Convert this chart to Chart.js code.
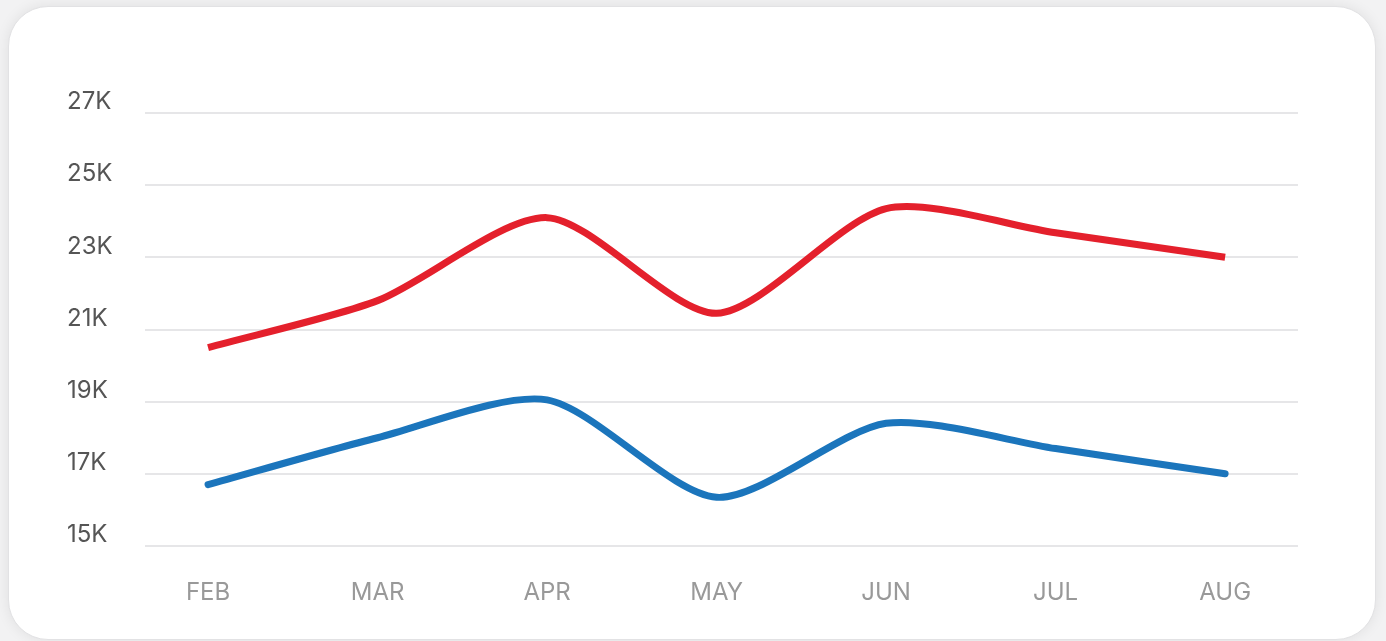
<!DOCTYPE html>
<html>
<head>
<meta charset="utf-8">
<script src="https://cdn.jsdelivr.net/npm/chart.js@4.4.1/dist/chart.umd.min.js"></script>
<style>
    html, body {
        margin: 0;
        padding: 0;
        width: 1386px;
        height: 641px;
        background: #f2f2f3;
        overflow: hidden;
    }
    .card {
        position: absolute;
        left: 8px;
        top: 6px;
        width: 1366px;
        height: 632px;
        background: #ffffff;
        border: 1px solid #e2e2e4;
        border-radius: 40px;
        box-shadow: 0 0 14px rgba(0, 0, 0, 0.08);
    }
    .chart-box {
        position: absolute;
        left: 0;
        top: 0;
        width: 1386px;
        height: 641px;
    }
</style>
</head>
<body>
<div class="card"></div>
<div class="chart-box"><canvas id="salesChart"></canvas></div>

<script>
// ################ data ################
const months = ["FEB", "MAR", "APR", "MAY", "JUN", "JUL", "AUG"];
const redValues = [20500, 21800, 24100, 21450, 24350, 23680, 23000];
const blueValues = [16700, 18000, 19050, 16350, 18400, 17700, 17000];
const yTicks = [15000, 17000, 19000, 21000, 23000, 25000, 27000];

function toPoints(values) {
    return values.map((v, i) => ({ x: i, y: v }));
}

// ################ chart ################
document.addEventListener("DOMContentLoaded", function () {
    const ctx = document.getElementById("salesChart").getContext("2d");

    new Chart(ctx, {
        type: "line",
        data: {
            datasets: [
                {
                    label: "Red",
                    data: toPoints(redValues),
                    borderColor: "#e4202c",
                    borderWidth: 7,
                    borderCapStyle: "butt",
                    tension: 0.26,
                    pointRadius: 0,
                    fill: false,
                },
                {
                    label: "Blue",
                    data: toPoints(blueValues),
                    borderColor: "#1b75bc",
                    borderWidth: 7,
                    borderCapStyle: "round",
                    tension: 0.26,
                    pointRadius: 0,
                    fill: false,
                },
            ],
        },
        options: {
            responsive: true,
            maintainAspectRatio: false,
            animation: false,
            layout: {
                padding: { left: 67, right: 88, top: 113, bottom: 0 },
            },
            plugins: {
                legend: { display: false },
                tooltip: { enabled: false },
            },
            scales: {
                x: {
                    type: "linear",
                    min: -0.372,
                    max: 6.43,
                    afterBuildTicks: function (scale) {
                        scale.ticks = months.map((m, i) => ({ value: i }));
                    },
                    afterFit: function (scale) {
                        scale.height = 95;
                    },
                    ticks: {
                        autoSkip: false,
                        maxRotation: 0,
                        padding: 24,
                        color: "#999999",
                        font: { family: "Inter", size: 24 },
                        callback: function (value) {
                            return months[value];
                        },
                    },
                    grid: { display: false },
                    border: { display: false },
                },
                y: {
                    min: 15000,
                    max: 27000,
                    afterBuildTicks: function (scale) {
                        scale.ticks = yTicks.map((v) => ({ value: v }));
                    },
                    afterFit: function (scale) {
                        scale.width = 78;
                    },
                    ticks: {
                        crossAlign: "far",
                        labelOffset: -11,
                        color: "#555555",
                        font: { family: "Inter", size: 24 },
                        callback: function (value) {
                            return value / 1000 + "K";
                        },
                    },
                    grid: {
                        color: "#e6e6e8",
                        lineWidth: 2,
                        drawTicks: false,
                    },
                    border: { display: false },
                },
            },
        },
    });
});
</script>
</body>
</html>
